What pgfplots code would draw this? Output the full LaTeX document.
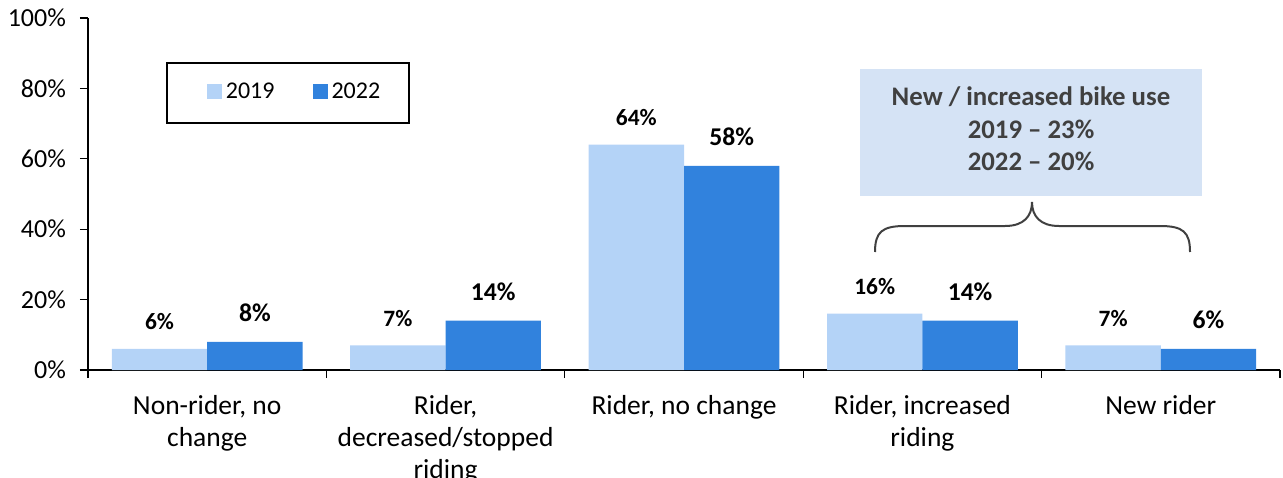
\documentclass[border=0pt]{standalone}
\usepackage{fontspec}
\setmainfont{Carlito}
\usepackage{pgfplots}
\pgfplotsset{compat=1.18}
\definecolor{cLight}{RGB}{180,211,247}
\definecolor{cDark}{RGB}{49,130,221}
\definecolor{cBox}{RGB}{213,227,245}
\definecolor{cText}{RGB}{64,64,64}
\begin{document}
\begin{tikzpicture}
\useasboundingbox (-44pt,-53.5pt) rectangle (597.5pt,185pt);
\begin{axis}[
  at={(0pt,0pt)}, anchor=south west,
  scale only axis, width=596pt, height=176pt,
  xmin=-0.5, xmax=4.5, ymin=0, ymax=100,
  axis lines=left,
  axis line style={line width=1pt, -},
  /pgf/number format/assume math mode=true,
  ytick={0,20,...,100},
  yticklabel={\pgfmathprintnumber{\tick}\%},
  yticklabel style={font=\fontsize{13}{15}\selectfont, xshift=-3.5pt},
  xtick={0,1,2,3,4},
  xticklabels={{Non-rider, no\\change},{Rider,\\decreased/stopped\\riding},{Rider, no change},{Rider, increased\\riding},{New rider}},
  xticklabel style={align=center, font=\fontsize{13.75}{16.2}\selectfont, anchor=north, yshift=-5pt},
  major x tick style={draw=none},
  minor xtick={-0.5,0.5,...,4.5},
  tick align=outside,
  major tick length=4pt, minor tick length=4pt,
  tick style={line width=0.6pt, black},
  legend style={at={(rel axis cs:0.1678,0.788)}, anchor=center, draw=black, line width=1pt,
     font=\fontsize{12}{14}\selectfont, inner xsep=12.5pt, inner ysep=8.3pt,
     /tikz/every even column/.append style={column sep=9.5pt}},
  legend columns=2,
  legend image code/.code={\path (0pt,0pt); \fill[#1,draw=none] (7.5pt,-3pt) rectangle (15pt,4.5pt);},
  nodes near coords={\pgfmathprintnumber{\pgfplotspointmeta}\%},
  every node near coord/.append style={font=\bfseries\fontsize{12}{14}\selectfont, anchor=center, yshift=13.5pt},
]
\addplot[ybar, bar width=0.4, bar shift=-0.2, fill=cLight, draw=none,
  every node near coord/.append style={font=\bfseries\fontsize{11.7}{14}\selectfont, xshift=-23.84pt}]
  coordinates {(0,6) (1,7) (2,64) (3,16) (4,7)};
\addplot[ybar, bar width=0.4, bar shift=0.2, fill=cDark, draw=none,
  every node near coord/.append style={font=\bfseries\fontsize{12.8}{14}\selectfont, xshift=23.84pt, yshift=1pt}]
  coordinates {(0,8) (1,14) (2,58) (3,14) (4,6)};
\legend{2019,2022}
\end{axis}
\begin{scope}[shift={(-44pt,185pt)}, x=0.5pt, y=-0.5pt]
  \fill[cBox] (860,69) rectangle (1202,196);
  \node[font=\bfseries\fontsize{13.4}{16.3}\selectfont, text=cText, align=center] at (1031,129)
    {New / increased bike use\\2019 – 23\%\\2022 – 20\%};
  \draw[line width=1pt, cText] (875,252) .. controls (875,232) and (882,226) .. (905,226)
     -- (1005,226) .. controls (1024,226) and (1032,216) .. (1032,202)
     .. controls (1032,216) and (1040,226) .. (1059,226) -- (1160,226)
     .. controls (1183,226) and (1190,232) .. (1190,252);
\end{scope}
\end{tikzpicture}
\end{document}
